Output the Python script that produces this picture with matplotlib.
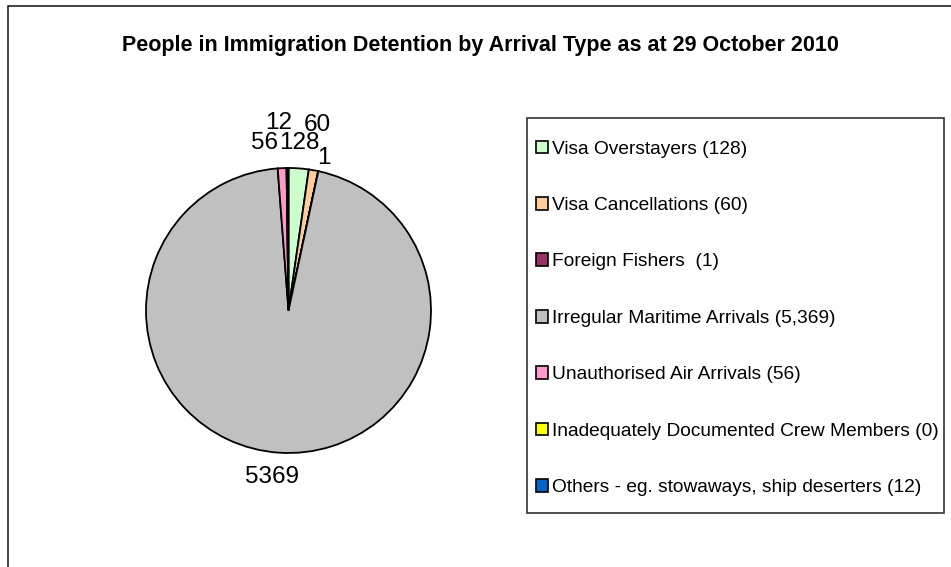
import matplotlib
matplotlib.use("Agg")
import matplotlib.pyplot as plt
from matplotlib.patches import Rectangle, Patch

# ---- data ----
categories = ["Visa Overstayers (128)", "Visa Cancellations (60)", "Foreign Fishers  (1)",
              "Irregular Maritime Arrivals (5,369)", "Unauthorised Air Arrivals (56)",
              "Inadequately Documented Crew Members (0)",
              "Others - eg. stowaways, ship deserters (12)"]
values = [128, 60, 1, 5369, 56, 0, 12]
colors = ["#CCFFCC", "#FFCC99", "#993366", "#C0C0C0", "#FF99CC", "#FFFF00", "#0066CC"]
title = "People in Immigration Detention by Arrival Type as at 29 October 2010"

# label placement (pie units, style only)
label_pos = {0: (0.077, 1.176), 1: (0.205, 1.305), 2: (0.245, 1.071),
             3: (-0.119, -1.169), 4: (-0.168, 1.176), 6: (-0.070, 1.316)}

W, H = 951, 567
fig = plt.figure(figsize=(W / 100, H / 100), dpi=100)
plt.rcParams['font.family'] = ['Liberation Sans', 'DejaVu Sans']

# outer frame (only left/top edges visible)
fig.patches.append(Rectangle((8 / W, -0.5), 1.5, 1.5 - 6 / H, transform=fig.transFigure,
                             fill=False, edgecolor="#222222", linewidth=1.2))

fig.text(480 / W, 1 - 46 / H, title, ha="center", va="center",
         fontsize=15.5, fontweight="bold")

cx, cy, R = 288.5, 310.5, 142.5
half = 200
ax = fig.add_axes([(cx - half) / W, (H - cy - half) / H, 2 * half / W, 2 * half / H])
ax.axis("off")
wedges, _ = ax.pie(values, colors=colors, startangle=90, counterclock=False,
                   radius=1.0, wedgeprops=dict(edgecolor="black", linewidth=1.3))
ax.set_xlim(-half / R, half / R)
ax.set_ylim(-half / R, half / R)
for i, v in enumerate(values):
    if i in label_pos:
        x, y = label_pos[i]
        ax.text(x, y, str(v), ha="center", va="center", fontsize=17.5)

# legend
fig.patches.append(Rectangle((527 / W, 1 - 513 / H), (944 - 527) / W, (513 - 118) / H,
                             transform=fig.transFigure, fill=False,
                             edgecolor="#333333", linewidth=1.2))
handles = [Patch(facecolor=c, edgecolor="black", linewidth=1.2) for c in colors]
leg = fig.legend(handles, categories, loc="upper left",
                 bbox_to_anchor=(536 / W, 1 - 140.5 / H), frameon=False,
                 fontsize=13.8, handlelength=0.65, handleheight=0.65,
                 handletextpad=0.2, labelspacing=2.05, borderpad=0, borderaxespad=0)

fig.savefig("out.png", dpi=100)
